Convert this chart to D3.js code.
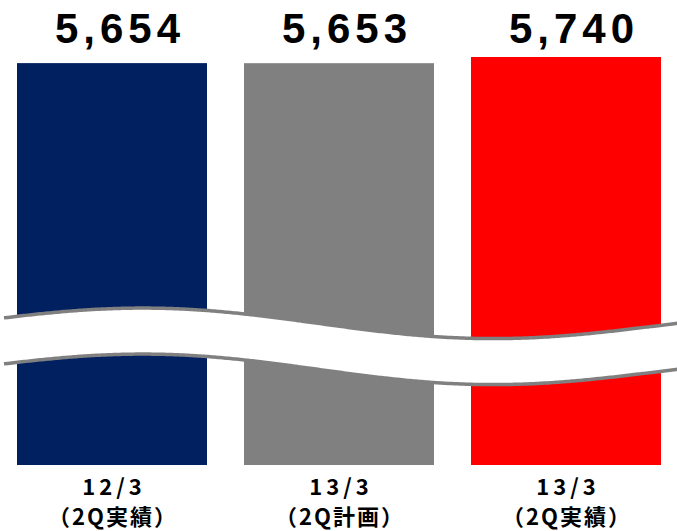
<!DOCTYPE html>
<html>
<head>
<meta charset="utf-8">
<script src="https://cdn.jsdelivr.net/npm/d3@7"></script>
<style>
  html, body { margin: 0; padding: 0; background: #fff; }
  svg { display: block; }
</style>
</head>
<body>
<div id="chart"></div>
<script>
// data
var periods = ['12/3', '13/3', '13/3'];
var subLabels = ['（2Q実績）', '（2Q計画）', '（2Q実績）'];
var values = [5654, 5653, 5740];
var colors = ['#002060', '#808080', '#ff0000'];

window.addEventListener('DOMContentLoaded', function () {
  drawChart();
});

function drawChart() {
  var w = 677, h = 531;

  var svg = d3.select('#chart')
    .append('svg')
    .attr('width', w)
    .attr('height', h);

  var x = d3.scaleBand()
    .domain(d3.range(values.length))
    .range([17, 661])
    .paddingInner(0.163)
    .paddingOuter(0);

  var y = d3.scaleLinear()
    .domain([0, d3.max(values)])
    .range([465, 57]);

  // bars
  svg.selectAll('rect.bar')
    .data(values)
    .enter()
    .append('rect')
    .attr('class', 'bar')
    .attr('x', function (d, i) { return x(i); })
    .attr('y', function (d) { return y(d); })
    .attr('width', x.bandwidth())
    .attr('height', function (d) { return y(0) - y(d); })
    .attr('fill', function (d, i) { return colors[i]; });

  // value labels
  svg.selectAll('text.val')
    .data(values)
    .enter()
    .append('text')
    .attr('class', 'val')
    .attr('x', function (d, i) { return x(i) + x.bandwidth() / 2; })
    .attr('y', 43)
    .attr('dx', 8)
    .attr('text-anchor', 'middle')
    .style('font-family', '"Liberation Sans", Arial, sans-serif')
    .style('font-weight', 'bold')
    .style('font-size', '42px')
    .style('letter-spacing', '5px')
    .text(function (d) { return d3.format(',')(d); });

  // broken axis wave band
  var gap = 46;
  var wave = function (xx, off) {
    var t = xx / w;
    return 321 + off - 14 * Math.sin(t * 2 * Math.PI + 0.19) + 5 * t;
  };
  var xs = d3.range(4, w + 5, 4);
  var topLine = xs.map(function (xx) { return [xx, wave(xx, 0)]; });
  var botLine = xs.map(function (xx) { return [xx, wave(xx, gap)]; });

  var line = d3.line().curve(d3.curveBasis);
  var area = d3.area()
    .x(function (d) { return d[0]; })
    .y0(function (d) { return d[1]; })
    .y1(function (d) { return wave(d[0], gap); })
    .curve(d3.curveBasis);

  svg.append('path')
    .attr('d', area(topLine))
    .attr('fill', '#fff');

  svg.append('path')
    .attr('d', line(topLine))
    .attr('fill', 'none')
    .attr('stroke', '#808080')
    .attr('stroke-width', 3.5);

  svg.append('path')
    .attr('d', line(botLine))
    .attr('fill', 'none')
    .attr('stroke', '#808080')
    .attr('stroke-width', 3.5);

  // category labels
  var cat = svg.selectAll('g.cat')
    .data(periods)
    .enter()
    .append('g')
    .attr('class', 'cat')
    .attr('transform', function (d, i) {
      return 'translate(' + (x(i) + x.bandwidth() / 2) + ',0)';
    });

  cat.append('text')
    .attr('y', 495)
    .attr('dx', 2)
    .attr('text-anchor', 'middle')
    .style('font-family', '"Noto Sans CJK JP", sans-serif')
    .style('font-weight', 'bold')
    .style('font-size', '22px')
    .style('letter-spacing', '4px')
    .text(function (d) { return d; });

  cat.append('text')
    .attr('y', 525)
    .attr('dx', 1)
    .attr('text-anchor', 'middle')
    .style('font-family', '"Noto Sans CJK JP", sans-serif')
    .style('font-weight', 'bold')
    .style('font-size', '22px')
    .style('letter-spacing', '2px')
    .text(function (d, i) { return subLabels[i]; });
}
</script>
</body>
</html>
